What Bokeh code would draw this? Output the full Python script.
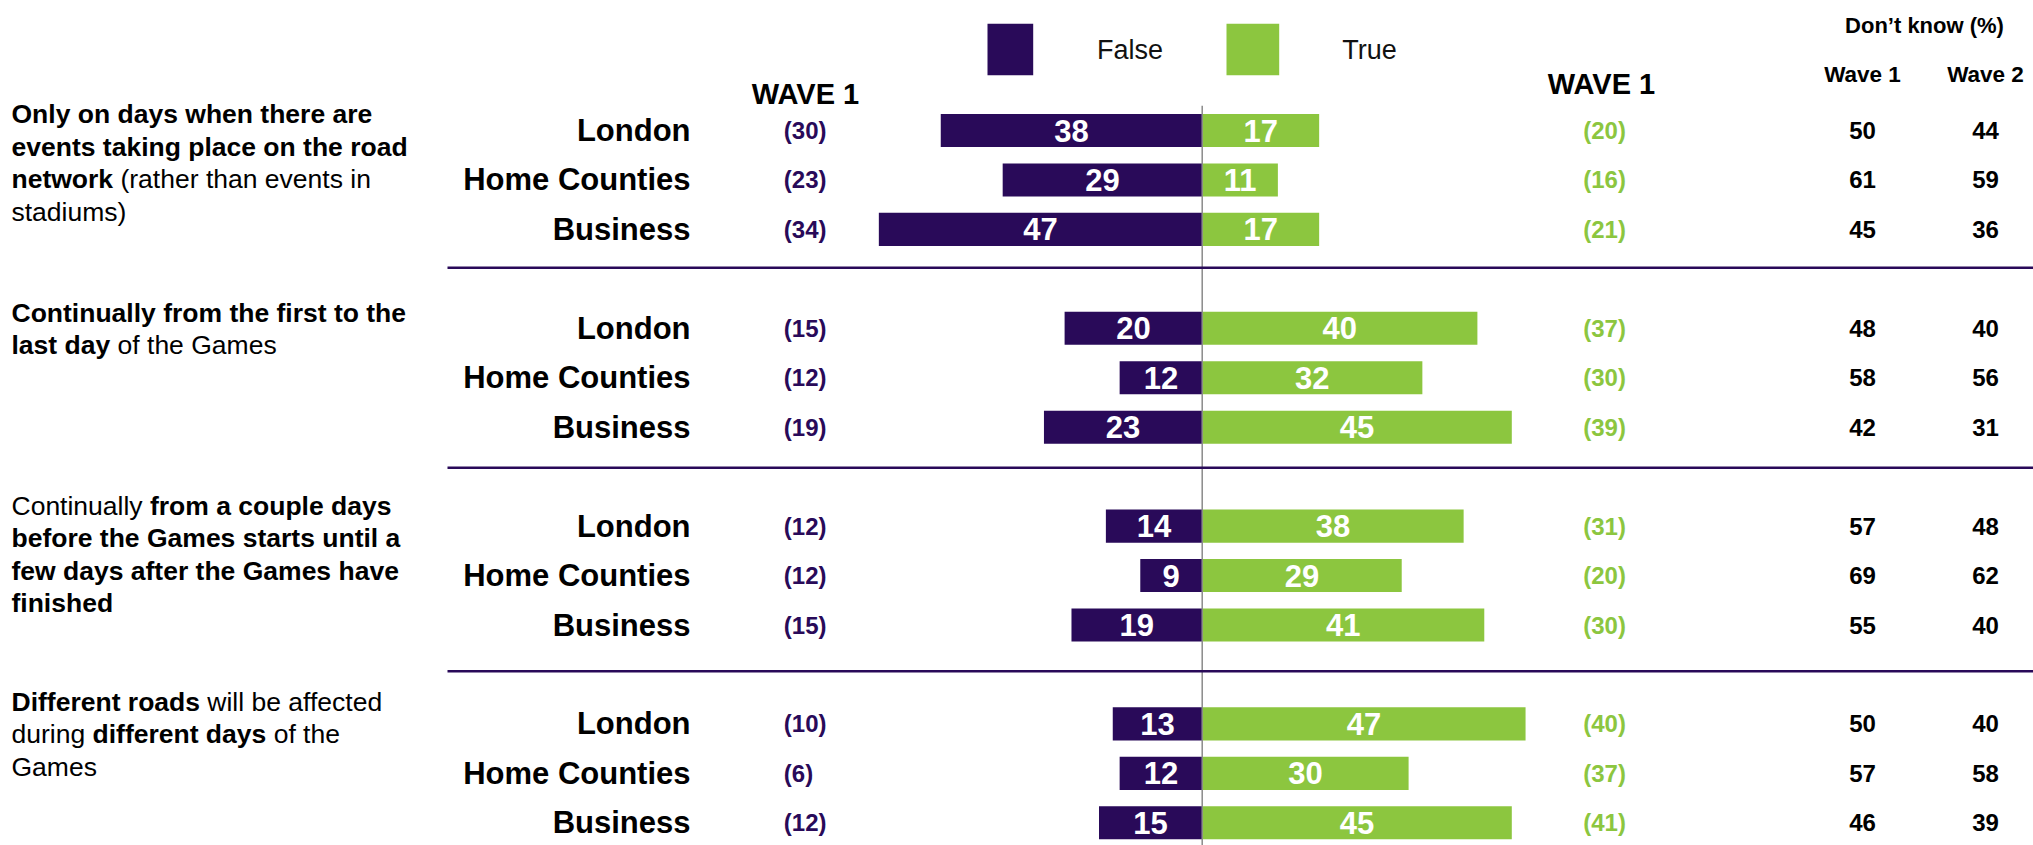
from bokeh.plotting import figure
from bokeh.models import Range1d, ColumnDataSource
from bokeh.core.properties import value
from bokeh.embed import file_html
from bokeh.resources import INLINE

# ---------------- data ----------------
segments = ["London", "Home Counties", "Business"]
false_pct = [38, 29, 47, 20, 12, 23, 14, 9, 19, 13, 12, 15]
true_pct = [17, 11, 17, 40, 32, 45, 38, 29, 41, 47, 30, 45]
false_wave1 = [30, 23, 34, 15, 12, 19, 12, 12, 15, 10, 6, 12]
true_wave1 = [20, 16, 21, 37, 30, 39, 31, 20, 30, 40, 37, 41]
dk_wave1 = [50, 61, 45, 48, 58, 42, 57, 69, 55, 50, 57, 46]
dk_wave2 = [44, 59, 36, 40, 56, 31, 48, 62, 40, 40, 58, 39]

statement_lines = [
    [[("Only on days when there are", True)],
     [("events taking place on the road", True)],
     [("network", True), (" (rather than events in", False)],
     [("stadiums)", False)]],
    [[("Continually from the first to the", True)],
     [("last day", True), (" of the Games", False)]],
    [[("Continually ", False), ("from a couple days", True)],
     [("before the Games starts until a", True)],
     [("few days after the Games have", True)],
     [("finished", True)]],
    [[("Different roads", True), (" will be affected", False)],
     [("during ", False), ("different days", True), (" of the", False)],
     [("Games", False)]],
]

legend_labels = ["False", "True"]
wave_label = "WAVE 1"
dk_title = "Don\u2019t know (%)"
dk_cols = ["Wave 1", "Wave 2"]

# ---------------- style / layout ----------------
PURPLE = "#290A59"
GREEN = "#8CC63F"
FONT = value("Liberation Sans")

W, H = 2033, 845
CX = 1201.7                    # screen x of the zero line
PX = 6.88                      # pixels per percentage point
X0 = -CX / PX
X1 = X0 + W / PX
CY = 130.0                     # screen y of first row
ROW_PX = 49.45
Y_TOP = -CY / ROW_PX
Y_BOTTOM = (H - CY) / ROW_PX


def sx(x):
    return (x - CX) / PX


def sy(y):
    return (y - CY) / ROW_PX


BAR_H = 0.67
rows = [4 * (i // 3) + (i % 3) for i in range(len(false_pct))]
cats = [segments[i % 3] for i in range(len(false_pct))]

p = figure(width=W, height=H, x_range=Range1d(X0, X1),
           y_range=Range1d(Y_BOTTOM, Y_TOP),
           x_axis_type=None, y_axis_type=None,
           output_backend="svg", toolbar_location=None, min_border=0)
p.outline_line_color = None
p.background_fill_color = "white"
p.border_fill_color = "white"

src = ColumnDataSource(dict(
    y=rows, cat=cats,
    fl=[-v for v in false_pct], tr=true_pct,
    fmid=[-v / 2 for v in false_pct], tmid=[v / 2 for v in true_pct],
    ftxt=[str(v) for v in false_pct], ttxt=[str(v) for v in true_pct],
    fw1=["(%d)" % v for v in false_wave1], tw1=["(%d)" % v for v in true_wave1],
    dk1=[str(v) for v in dk_wave1], dk2=[str(v) for v in dk_wave2],
))

# bars
p.hbar(y="y", left="fl", right=0, height=BAR_H, source=src,
       fill_color=PURPLE, line_color=None)
p.hbar(y="y", left=0, right="tr", height=BAR_H, source=src,
       fill_color=GREEN, line_color=None)

# centre line
p.segment(x0=[0], y0=[sy(105.3)], x1=[0], y1=[Y_BOTTOM], line_color="#8a8a8a",
          line_width=1.5)

# separators
SEP_Y = [sy(267.3), sy(467.3), sy(670.7)]
p.segment(x0=[sx(447)] * 3, y0=SEP_Y, x1=[X1] * 3, y1=SEP_Y,
          line_color=PURPLE, line_width=2.5)

# bar value labels
for xcol, tcol in (("fmid", "ftxt"), ("tmid", "ttxt")):
    p.text(x=xcol, y="y", text=tcol, source=src, text_color="white",
           text_font=FONT, text_font_style="bold", text_font_size="31px",
           text_align="center", text_baseline="middle")

# category labels
p.text(x=sx(690), y="y", text="cat", source=src, text_color="black",
       text_font=FONT, text_font_style="bold", text_font_size="31px",
       text_align="right", text_baseline="middle")

# wave 1 numbers
p.text(x=sx(783.3), y="y", text="fw1", source=src, text_color=PURPLE,
       text_font=FONT, text_font_style="bold", text_font_size="24px",
       text_align="left", text_baseline="middle")
p.text(x=sx(1582.7), y="y", text="tw1", source=src, text_color=GREEN,
       text_font=FONT, text_font_style="bold", text_font_size="24px",
       text_align="left", text_baseline="middle")

# don't know columns
DK_X = [sx(1862), sx(1985)]
p.text(x=DK_X[0], y="y", text="dk1", source=src, text_color="black",
       text_font=FONT, text_font_style="bold", text_font_size="24px",
       text_align="center", text_baseline="middle")
p.text(x=DK_X[1], y="y", text="dk2", source=src, text_color="black",
       text_font=FONT, text_font_style="bold", text_font_size="24px",
       text_align="center", text_baseline="middle")

# headers
p.text(x=[sx(1924)], y=[sy(24.5)], text=[dk_title],
       text_color="black", text_font=FONT, text_font_style="bold",
       text_font_size="22px", text_align="center", text_baseline="middle")
p.text(x=DK_X, y=[sy(74)] * 2, text=dk_cols,
       text_color="black", text_font=FONT, text_font_style="bold",
       text_font_size="22.5px", text_align="center", text_baseline="middle")
p.text(x=[sx(805), sx(1601)], y=[sy(93), sy(83)],
       text=[wave_label, wave_label], text_color="black", text_font=FONT,
       text_font_style="bold", text_font_size="29px", text_align="center",
       text_baseline="middle")

# legend
p.quad(left=[sx(987), sx(1226)], right=[sx(1032.7), sx(1278.7)],
       top=[sy(23.3)] * 2, bottom=[sy(74.7)] * 2,
       fill_color=[PURPLE, GREEN], line_color=None)
p.text(x=[sx(1129.5), sx(1369)], y=[sy(49)] * 2, text=legend_labels,
       text_color="#111111", text_font=FONT, text_font_size="27px",
       text_align="center", text_baseline="middle")

# statements (mixed bold / regular)
REG_W = {' ': 278, '(': 333, ')': 333, 'a': 556, 'b': 556, 'c': 500, 'd': 556,
         'e': 556, 'f': 278, 'g': 556, 'h': 556, 'i': 222, 'k': 500, 'l': 222,
         'm': 833, 'n': 556, 'o': 556, 'p': 556, 'r': 333, 's': 500, 't': 278,
         'u': 556, 'v': 500, 'w': 722, 'y': 500, 'C': 722, 'G': 778, 'D': 722}
BOLD_W = {' ': 278, '(': 333, ')': 333, 'a': 556, 'b': 611, 'c': 556, 'd': 611,
          'e': 556, 'f': 333, 'g': 611, 'h': 611, 'i': 278, 'k': 556, 'l': 278,
          'm': 889, 'n': 611, 'o': 611, 'p': 611, 'r': 389, 's': 556, 't': 333,
          'u': 611, 'v': 556, 'w': 778, 'y': 556, 'C': 722, 'G': 778, 'D': 722}
DESC_SIZE = 26.5


def tw(s, bold):
    t = BOLD_W if bold else REG_W
    return sum(t.get(c, 556) for c in s) / 1000 * DESC_SIZE / PX


DESC_X = sx(11)
# vertical centre of the first line of each statement
DESC_TOP = [sy(113.8), sy(312), sy(505), sy(701)]
DESC_LINE = 32.5 / ROW_PX

bx, by, bt, rx, ry, rt = [], [], [], [], [], []
for g, lines in enumerate(statement_lines):
    for li, segs in enumerate(lines):
        y = DESC_TOP[g] + li * DESC_LINE
        xo = DESC_X
        for s, bold in segs:
            st = s.lstrip()
            lead = s[:len(s) - len(st)]
            xpos = xo + tw(lead, bold)
            if bold:
                bx.append(xpos); by.append(y); bt.append(st.rstrip())
            else:
                rx.append(xpos); ry.append(y); rt.append(st.rstrip())
            xo += tw(s, bold)

p.text(x=bx, y=by, text=bt, text_color="black", text_font=FONT,
       text_font_style="bold", text_font_size="%.1fpx" % DESC_SIZE,
       text_align="left", text_baseline="middle")
p.text(x=rx, y=ry, text=rt, text_color="black", text_font=FONT,
       text_font_style="normal", text_font_size="%.1fpx" % DESC_SIZE,
       text_align="left", text_baseline="middle")

open("out.html", "w").write(file_html(p, INLINE))
